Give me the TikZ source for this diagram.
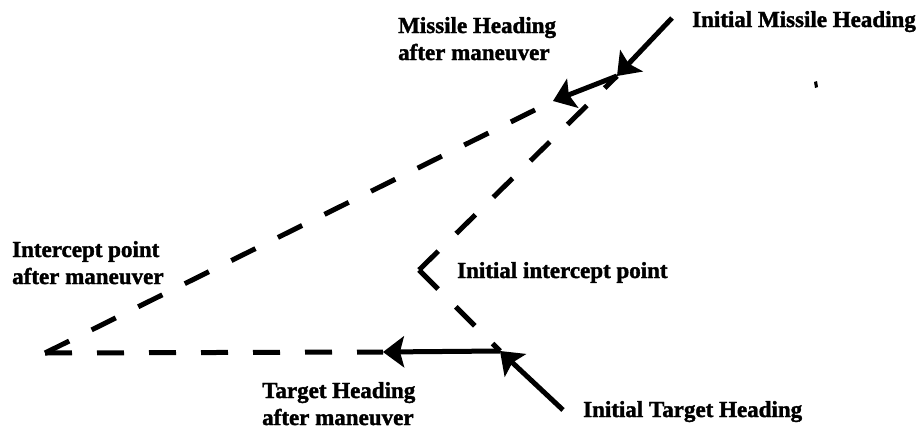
\documentclass[tikz,border=0pt]{standalone}
\usepackage{fontspec}
\setmainfont{Liberation Serif}
\newfontfamily\lblfont{Liberation Serif}[BoldFeatures={FakeBold=1.6}]
\usetikzlibrary{arrows.meta}

\tikzset{
  path/.style={line width=5pt, line cap=butt, black},
  heading/.style={path, -{Stealth[length=21pt, width=31pt, inset=4pt]}},
  dashpath/.style={path, dash pattern=on 27pt off 25pt},
  lbl/.style={anchor=base west, inner sep=0pt,
              font=\lblfont\fontsize{23}{27}\selectfont\bfseries},
}

\newcommand{\twolines}[2]{\begin{tabular}[t]{@{}l@{}}#1\\#2\end{tabular}}

\begin{document}
\begin{tikzpicture}[x=1pt, y=-1pt]
  \useasboundingbox (0,0) rectangle (924,429);

  % positions of missile, target and intercept points
  \coordinate (mstart) at (672,18);
  \coordinate (m0) at (617,76);
  \coordinate (m1) at (553,101);
  \coordinate (i0) at (419,270);
  \coordinate (i1) at (45,353);
  \coordinate (tstart) at (563,410);
  \coordinate (t0) at (500,351);
  \coordinate (t1) at (383,352);

  % projected paths (dashed), drawn outward from each intercept point
  \draw[dashpath] (i0) -- (m0);
  \draw[dashpath] (i0) -- (t0);
  \draw[dashpath] (i1) -- (t1);
  \draw[dashpath] (i1) -- (m1);

  % headings
  \draw[heading] (mstart) -- (m0);
  \draw[heading] (m0) -- (m1);
  \draw[heading] (tstart) -- (t0);
  \draw[heading] (t0) -- (t1);

  % small speck on the right
  \fill (814,82) -- (817,81) -- (818,87) -- (815,88) -- cycle;

  % labels
  \node[lbl] (lmm) at (398,33) {\twolines{Missile Heading}{after maneuver}};
  \node[lbl] (lim) at (692,27) {Initial Missile Heading};
  \node[lbl] (lip) at (12,257) {\twolines{Intercept point}{after maneuver}};
  \node[lbl] (lii) at (457,278) {Initial intercept point};
  \node[lbl] (ltm) at (262,398) {\twolines{Target Heading}{after maneuver}};
  \node[lbl] (lit) at (583,417) {Initial Target Heading};
\end{tikzpicture}
\end{document}
